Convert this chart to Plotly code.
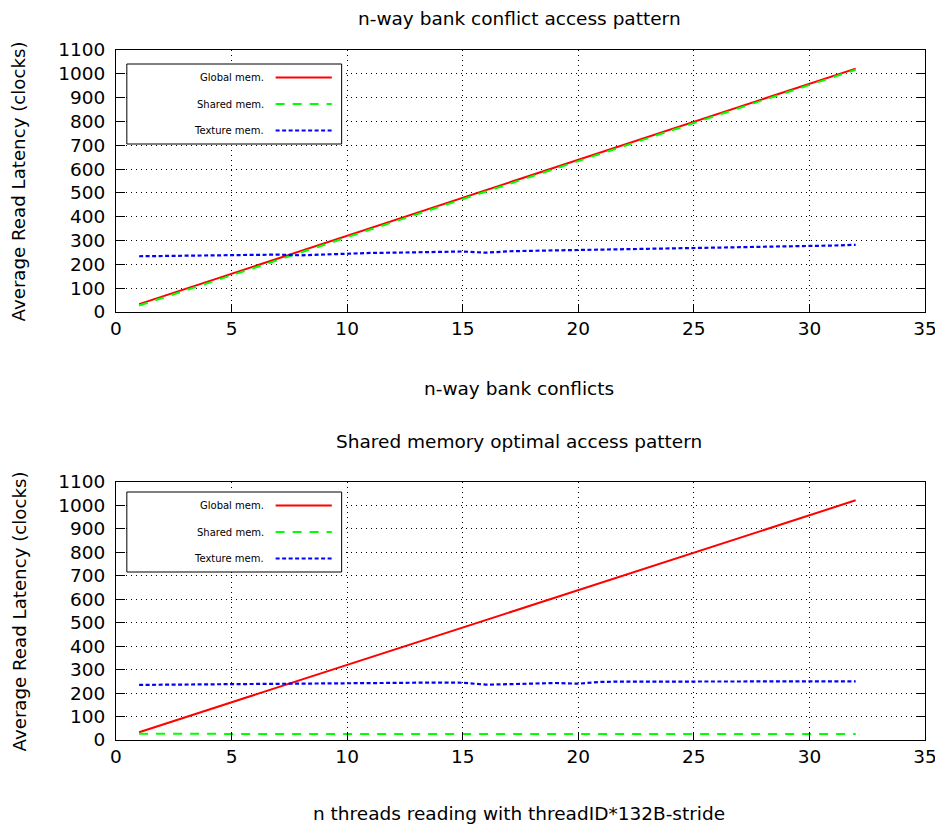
import plotly.graph_objects as go

n = list(range(1, 33))

top_global = [33, 65, 97, 129, 161, 193, 225, 257, 289, 321, 353, 385, 417, 449, 481, 513,
              545, 577, 609, 641, 673, 705, 737, 769, 801, 833, 865, 897, 929, 961, 993, 1022]
top_shared = [27, 58, 90, 122, 154, 186, 218, 250, 282, 314, 346, 378, 410, 442, 474, 506,
              538, 570, 602, 634, 666, 698, 730, 762, 794, 826, 858, 890, 922, 954, 986, 1017]
top_texture = [234, 235, 236, 236, 239, 240, 241, 238, 242, 245, 248, 249, 250, 252, 254, 249,
               255, 257, 259, 258, 263, 264, 265, 267, 269, 271, 272, 274, 275, 277, 279, 282]

bot_global = [33, 65, 97, 129, 161, 193, 225, 257, 289, 321, 353, 385, 417, 449, 481, 513,
              545, 577, 609, 641, 673, 705, 737, 769, 801, 833, 865, 897, 929, 961, 993, 1022]
bot_shared = [27, 26, 26, 26, 26, 26, 26, 26, 26, 26, 26, 26, 26, 26, 26, 26,
              26, 26, 26, 26, 26, 26, 26, 26, 26, 26, 26, 26, 26, 26, 26, 26]
bot_texture = [235, 236, 236, 237, 238, 239, 240, 240, 241, 243, 244, 244, 244, 245, 244, 236,
               238, 241, 243, 240, 248, 249, 249, 250, 250, 250, 250, 250, 250, 250, 250, 250]

series_names = ["Global mem.", "Shared mem.", "Texture mem."]
titles = ["n-way bank conflict access pattern", "Shared memory optimal access pattern"]
xtitles = ["n-way bank conflicts", "n threads reading with threadID*132B-stride"]
ytitle = "Average Read Latency (clocks)"
xticks = [0, 5, 10, 15, 20, 25, 30, 35]

styles = [dict(color="#ff0000", width=2, dash="solid"),
          dict(color="#00ff00", width=2, dash="9px,8px"),
          dict(color="#0000ff", width=2.2, dash="4px,2.5px")]

# page body has an 8px margin: work in screen pixels, convert to figure pixels
O = 8
W, H = 943 - O, 831 - O
SL, SR, ST, SB = 116, 937, 50, 740          # plot area, screen pixels
L, R, T, B = SL - O, SR - O, ST - O, SB - O  # figure pixels
FONT = "DejaVu Sans"

fig = go.Figure()
data = [(top_global, top_shared, top_texture), (bot_global, bot_shared, bot_texture)]
for i, group in enumerate(data):
    xa = "x" if i == 0 else "x2"
    ya = "y" if i == 0 else "y2"
    for name, vals, st in zip(series_names, group, styles):
        fig.add_trace(go.Scatter(x=n, y=vals, mode="lines", name=name, line=st,
                                 xaxis=xa, yaxis=ya, showlegend=False))

ph = SB - ST
pw = SR - SL
top_dom = [(SB - 312) / ph, 1.0]
bot_dom = [0.0, (SB - 482) / ph]

axis_common = dict(showline=True, linecolor="black", linewidth=1,
                   showgrid=True, gridcolor="black", gridwidth=1, griddash="1px,4px",
                   zeroline=False, tickfont=dict(family=FONT, size=18.5, color="black"),
                   tickcolor="black", ticklabeloverflow="allow")

xa_kw = dict(axis_common, range=[0, 35], tickvals=xticks,
             ticks="inside", ticklen=8, mirror=True)
ya_kw = dict(axis_common, range=[0, 1100], dtick=100, ticks="inside", ticklen=9, mirror="ticks",
             ticklabelstandoff=6)

fig.update_layout(
    width=W, height=H,
    margin=dict(l=L, r=W - R, t=T, b=H - B),
    plot_bgcolor="white", paper_bgcolor="white",
    xaxis=dict(xa_kw, domain=[0, 1], anchor="y"),
    yaxis=dict(ya_kw, domain=top_dom, anchor="x"),
    xaxis2=dict(xa_kw, domain=[0, 1], anchor="y2"),
    yaxis2=dict(ya_kw, domain=bot_dom, anchor="x2"),
    font=dict(family=FONT, color="black"),
)


def px(xs):
    return (xs - SL) / pw


def py(ys):
    return (SB - ys) / ph


shapes = []
annots = []
for i, (top_px, ycen) in enumerate([(50, 181), (482, 611)]):
    annots.append(dict(text=titles[i], x=px(525), y=py([19, 441][i]), xref="paper", yref="paper",
                       showarrow=False, font=dict(size=18.5, family=FONT), xanchor="center", yanchor="middle",
                       borderpad=0))
    annots.append(dict(text=xtitles[i], x=px(525), y=py([388, 813][i]), xref="paper", yref="paper",
                       showarrow=False, font=dict(size=18.5, family=FONT), xanchor="center", yanchor="middle",
                       borderpad=0))
    annots.append(dict(text=ytitle, x=px(18), y=py(ycen), xref="paper", yref="paper", textangle=-90,
                       showarrow=False, font=dict(size=18.2, family=FONT), xanchor="center", yanchor="middle"))
    off = [14, 10][i]
    bx0, bx1 = 127, 345
    by0, by1 = top_px + off, top_px + off + 80
    shapes.append(dict(type="rect", xref="paper", yref="paper", x0=px(bx0), x1=px(bx1),
                       y0=py(by0), y1=py(by1), line=dict(color="black", width=1),
                       fillcolor="white", layer="above"))
    for k, (name, st) in enumerate(zip(series_names, styles)):
        ry = by0 + 13.5 + k * 26.5
        annots.append(dict(text=name, x=px(268), y=py(ry), xref="paper", yref="paper", showarrow=False,
                           font=dict(size=10, family=FONT), xanchor="right", yanchor="middle"))
        shapes.append(dict(type="line", xref="paper", yref="paper", x0=px(278), x1=px(335),
                           y0=py(ry), y1=py(ry), line=st, layer="above"))

fig.update_layout(shapes=shapes, annotations=annots)
fig.write_html("out.html")
